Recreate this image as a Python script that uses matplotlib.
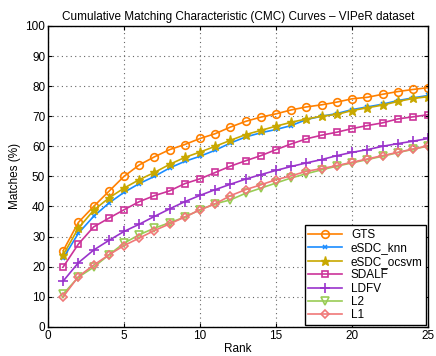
import numpy as np
import matplotlib
matplotlib.use("Agg")
import matplotlib.pyplot as plt

plt.rcParams['font.family'] = ['Liberation Sans', 'DejaVu Sans']

ranks = list(range(1, 26))

gts = [25.3, 34.7, 40.0, 45.0, 50.0, 53.8, 56.5, 58.9, 60.6, 62.6, 64.2, 66.4, 68.3,
       69.7, 70.8, 72.1, 73.1, 73.8, 74.7, 75.8, 76.3, 77.3, 78.2, 78.9, 79.5]
esdc_knn = [22.8, 31.1, 36.7, 41.1, 44.7, 47.6, 50.0, 52.8, 55.0, 56.7, 58.7, 61.1, 63.1,
            64.5, 65.6, 66.9, 68.9, 70.0, 70.9, 72.2, 73.1, 74.0, 75.2, 76.1, 76.9]
esdc_ocsvm = [23.9, 32.8, 38.7, 42.8, 46.1, 48.9, 51.3, 54.0, 56.3, 58.1, 60.0, 62.0, 63.9,
              65.3, 66.7, 68.0, 69.1, 70.0, 70.6, 71.9, 72.8, 73.7, 74.9, 75.9, 76.5]
sdalf = [19.9, 27.5, 33.2, 36.1, 38.9, 41.6, 43.6, 45.2, 47.6, 49.2, 51.3, 53.4, 55.2,
         56.9, 58.9, 60.8, 62.5, 63.7, 64.7, 65.9, 66.9, 67.8, 69.1, 69.8, 70.5]
ldfv = [15.2, 21.3, 25.5, 28.7, 31.7, 34.1, 36.7, 39.2, 41.6, 43.7, 45.6, 47.4, 49.1,
        50.6, 52.0, 53.3, 54.5, 55.6, 56.9, 58.0, 58.9, 60.0, 60.9, 61.7, 62.6]
l2 = [10.9, 16.5, 19.8, 23.9, 27.8, 30.6, 32.8, 34.6, 36.5, 38.9, 40.9, 42.2, 44.4,
      46.1, 47.8, 49.5, 50.9, 52.2, 53.4, 54.5, 55.6, 56.7, 57.9, 59.0, 60.1]
l1 = [10.0, 16.7, 20.5, 23.9, 27.0, 29.5, 32.0, 34.2, 36.5, 38.9, 40.9, 43.6, 45.6,
      47.2, 48.9, 50.2, 51.7, 52.6, 53.6, 54.7, 55.8, 56.9, 58.0, 59.1, 60.2]

fig = plt.figure(figsize=(4.36, 3.56), dpi=100)
ax = fig.add_axes([0.110, 0.082, 0.872, 0.845])

ax.plot(ranks, gts, color='#ff8000', marker='o', ms=5.5, mfc='none', mew=1.2, lw=1.2, label='GTS')
ax.plot(ranks, esdc_knn, color='#1a8cff', marker='x', ms=3.5, mew=1.1, lw=1.2, label='eSDC_knn')
ax.plot(ranks, esdc_ocsvm, color='#c8a800', marker='*', ms=6.5, lw=1.2, label='eSDC_ocsvm')
ax.plot(ranks, sdalf, color='#cc3399', marker='s', ms=5, mfc='none', mew=1.2, lw=1.2, label='SDALF')
ax.plot(ranks, ldfv, color='#9933cc', marker='+', ms=6.5, mew=1.2, lw=1.2, label='LDFV')
ax.plot(ranks, l2, color='#99cc55', marker='v', ms=5.5, mfc='none', mew=1.2, lw=1.2, label='L2')
ax.plot(ranks, l1, color='#f07878', marker='D', ms=4.5, mfc='none', mew=1.2, lw=1.2, label='L1')

ax.set_xlim(0, 25)
ax.set_ylim(0, 100)
ax.set_xticks(range(0, 26, 5))
ax.set_yticks(range(0, 101, 10))
ax.grid(True, linestyle=(0, (1, 3)), color='#666666', linewidth=0.8)
ax.tick_params(direction='in', top=True, right=True, labelsize=8.5, length=3, pad=2)
for s in ax.spines.values():
    s.set_linewidth(1.0)

ax.set_xlabel('Rank', fontsize=8.5, labelpad=1)
ax.set_ylabel('Matches (%)', fontsize=8.5, labelpad=3)
ax.set_title('Cumulative Matching Characteristic (CMC) Curves \u2013 VIPeR dataset', fontsize=8.5, pad=4)

leg = ax.legend(loc='lower right', fontsize=8.5, fancybox=False, framealpha=1,
                edgecolor='black', borderaxespad=0.15, handlelength=2.8,
                labelspacing=0.12, borderpad=0.3)
leg.get_frame().set_linewidth(1.0)

fig.savefig('out.png', dpi=100)
